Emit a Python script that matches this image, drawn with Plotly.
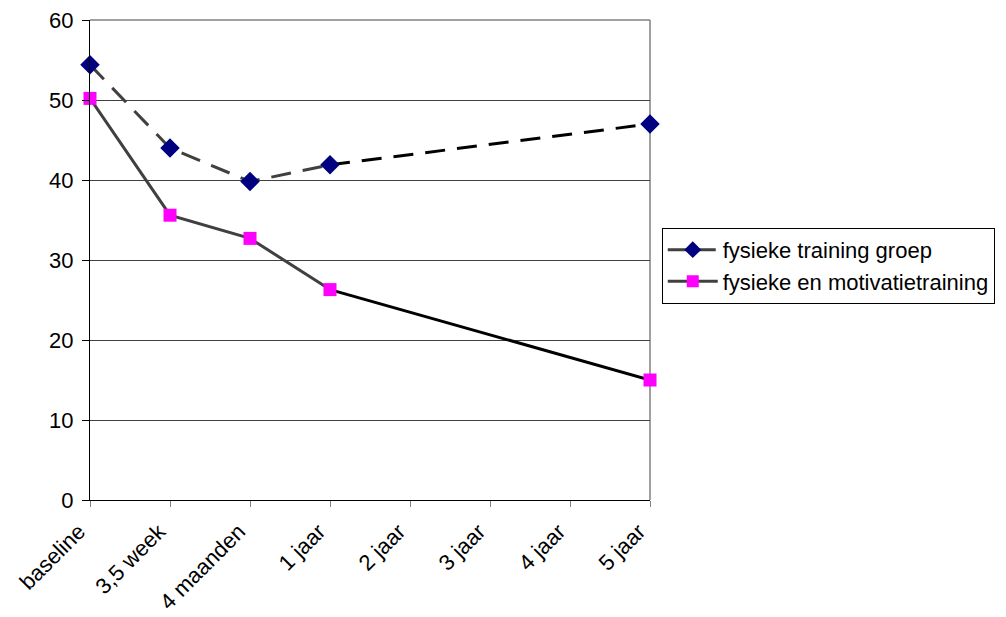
import plotly.graph_objects as go

categories = ["baseline", "3,5 week", "4 maanden", "1 jaar", "2 jaar", "3 jaar", "4 jaar", "5 jaar"]
fysieke_training = [54.4, 44.0, 39.8, 41.9, None, None, None, 47.0]
fysieke_motivatie = [50.2, 35.6, 32.7, 26.3, None, None, None, 15.0]
y_ticks = [0, 10, 20, 30, 40, 50, 60]

x_idx = list(range(len(categories)))

fig = go.Figure()

# series 2 line: dark grey up to 1 jaar, black after
fig.add_trace(go.Scatter(x=x_idx[:4], y=fysieke_motivatie[:4], mode="lines",
                         line=dict(color="#404040", width=3), showlegend=False, hoverinfo="skip"))
fig.add_trace(go.Scatter(x=x_idx[3:], y=fysieke_motivatie[3:], mode="lines", connectgaps=True,
                         line=dict(color="#000000", width=3), showlegend=False, hoverinfo="skip"))
# series 1 line
fig.add_trace(go.Scatter(x=x_idx[:4], y=fysieke_training[:4], mode="lines",
                         line=dict(color="#404040", width=3, dash="20px,12px"), showlegend=False, hoverinfo="skip"))
fig.add_trace(go.Scatter(x=x_idx[3:], y=fysieke_training[3:], mode="lines", connectgaps=True,
                         line=dict(color="#000000", width=3, dash="20px,12px"), showlegend=False, hoverinfo="skip"))

# markers
fig.add_trace(go.Scatter(x=x_idx, y=fysieke_training, mode="markers", showlegend=False,
                         name="fysieke training groep", cliponaxis=False,
                         marker=dict(symbol="diamond", size=15, color="#000080")))
fig.add_trace(go.Scatter(x=x_idx, y=fysieke_motivatie, mode="markers", showlegend=False,
                         name="fysieke en motivatietraining", cliponaxis=False,
                         marker=dict(symbol="square", size=13, color="#FF00FF")))

# legend entries
fig.add_trace(go.Scatter(x=[None], y=[None], mode="lines+markers", name="fysieke training groep",
                         line=dict(color="#404040", width=3, dash="20px,8px"),
                         marker=dict(symbol="diamond", size=13, color="#000080")))
fig.add_trace(go.Scatter(x=[None], y=[None], mode="lines+markers", name="fysieke en motivatietraining",
                         line=dict(color="#404040", width=3),
                         marker=dict(symbol="square", size=12, color="#FF00FF")))

fig.update_layout(
    width=998, height=609,
    margin=dict(l=82, r=356, t=12, b=117, autoexpand=False),
    paper_bgcolor="white", plot_bgcolor="white",
    font=dict(family="Liberation Sans, Arial, sans-serif", size=22, color="black"),
    legend=dict(x=1.021, y=0.567, xanchor="left", yanchor="top",
                bordercolor="black", borderwidth=1, bgcolor="white",
                font=dict(size=22), tracegroupgap=0, itemwidth=50),
    xaxis=dict(range=[0, 7], tickmode="array", tickvals=x_idx, ticktext=categories,
               tickangle=-45, showgrid=False, zeroline=False, automargin=False,
               showline=True, linecolor="black", linewidth=1,
               ticks="outside", ticklen=6, tickcolor="#808080",
               ticklabelshift=-11, ticklabelstandoff=3, ticklabeloverflow="allow",
               tickfont=dict(size=22), mirror=False),
    yaxis=dict(range=[0, 60], tickmode="array", tickvals=y_ticks, automargin=False,
               showgrid=True, gridcolor="#404040", gridwidth=1, zeroline=False,
               showline=True, linecolor="black", linewidth=1,
               ticks="outside", ticklen=7, tickcolor="black",
               ticklabelstandoff=4, ticklabeloverflow="allow",
               tickfont=dict(size=22)),
    shapes=[dict(type="line", xref="paper", yref="paper", x0=1, x1=1, y0=0, y1=1,
                 line=dict(color="#a0a0a0", width=2), layer="below"),
            dict(type="line", xref="paper", yref="paper", x0=0, x1=1, y0=1, y1=1,
                 line=dict(color="#808080", width=1.5), layer="below")],
)

fig.write_html("out.html")
